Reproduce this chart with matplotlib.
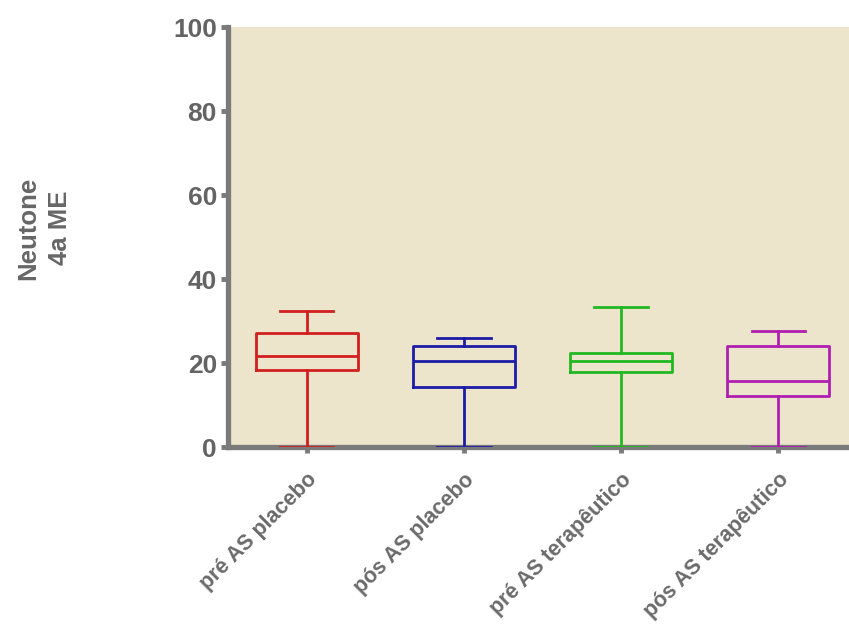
import matplotlib
matplotlib.use("Agg")
import matplotlib.pyplot as plt

groups = ["pré AS placebo", "pós AS placebo", "pré AS terapêutico", "pós AS terapêutico"]
whisker_low = [0, 0, 0, 0]
q1 = [18.3, 14.2, 18.0, 12.2]
median = [21.7, 20.4, 20.4, 15.7]
q3 = [27.1, 24.0, 22.5, 24.0]
whisker_high = [32.4, 26.0, 33.4, 27.7]
colors = ["#d21f1f", "#1c1ca6", "#22b822", "#b01fb0"]

plt.rcParams['font.family'] = ['Liberation Sans', 'DejaVu Sans']

fig = plt.figure(figsize=(8.49, 6.28), dpi=100)
ax = fig.add_axes([0.2686, 0.288, 0.7314, 0.669])
ax.set_facecolor("#ece5cb")

stats = []
for i in range(len(groups)):
    stats.append({"whislo": whisker_low[i], "q1": q1[i], "med": median[i],
                  "q3": q3[i], "whishi": whisker_high[i], "fliers": []})

positions = list(range(1, len(groups) + 1))
for pos, st, c in zip(positions, stats, colors):
    ax.bxp([st], positions=[pos], widths=0.65, showfliers=False,
           boxprops=dict(color=c, linewidth=2.0),
           medianprops=dict(color=c, linewidth=2.0),
           whiskerprops=dict(color=c, linewidth=2.0),
           capprops=dict(color=c, linewidth=2.0),
           capwidths=0.34)

ax.set_xlim(0.5, 4.45)
ax.set_ylim(0, 100)
ax.set_yticks([0, 20, 40, 60, 80, 100])
ax.set_xticks(positions)
ax.set_xticklabels(groups, rotation=45, ha="right", rotation_mode="anchor",
                   fontsize=15.5, fontweight="bold", color="#6a6a6a")

for lab in ax.get_yticklabels():
    lab.set_fontweight("bold")
ax.tick_params(axis="y", labelsize=19, labelcolor="#646464", color="#7a7a7a",
               length=5, width=3.5, direction="out", pad=3)
ax.tick_params(axis="x", color="#7a7a7a", length=4, width=3.5, direction="out", pad=12)

for side in ["top", "right"]:
    ax.spines[side].set_visible(False)
for side in ["left", "bottom"]:
    ax.spines[side].set_color("#7a7a7a")
    ax.spines[side].set_linewidth(3.8)
    ax.spines[side].set_zorder(1)

fig.text(0.052, 0.637, "Neutone\n4a ME", rotation=90, ha="center", va="center",
         fontsize=18.5, fontweight="bold", color="#666666", linespacing=1.45)

fig.savefig("out.png", dpi=100)
